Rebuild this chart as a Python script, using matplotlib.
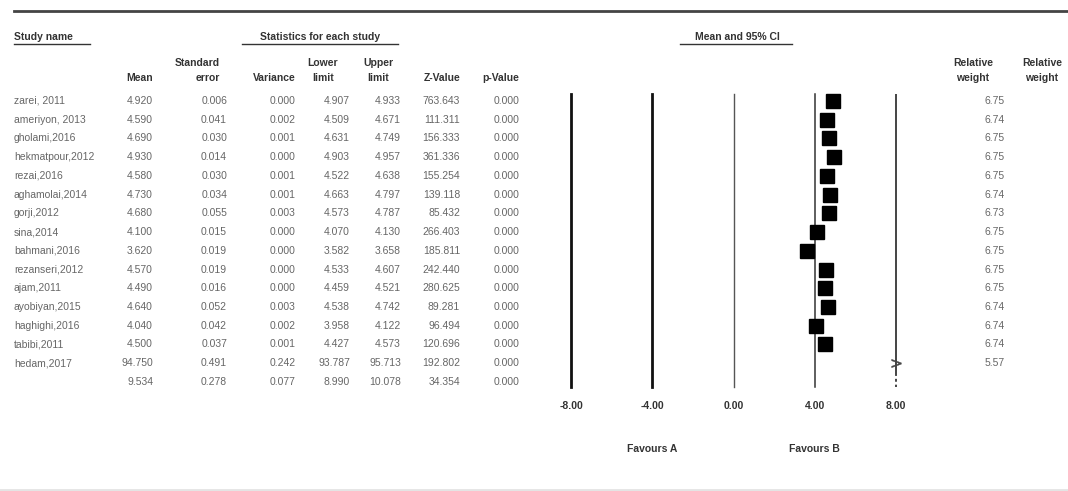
"""Forest plot of study means (mean and 95% CI) with the statistics table beside it."""
import matplotlib
matplotlib.use('Agg')
import matplotlib.pyplot as plt
from matplotlib.transforms import blended_transform_factory
from matplotlib.lines import Line2D

studies = ['zarei, 2011', 'ameriyon, 2013', 'gholami,2016', 'hekmatpour,2012', 'rezai,2016',
           'aghamolai,2014', 'gorji,2012', 'sina,2014', 'bahmani,2016', 'rezanseri,2012',
           'ajam,2011', 'ayobiyan,2015', 'haghighi,2016', 'tabibi,2011', 'hedam,2017']
means = [4.920, 4.590, 4.690, 4.930, 4.580, 4.730, 4.680, 4.100, 3.620, 4.570,
         4.490, 4.640, 4.040, 4.500, 94.750]
std_err = [0.006, 0.041, 0.030, 0.014, 0.030, 0.034, 0.055, 0.015, 0.019, 0.019,
           0.016, 0.052, 0.042, 0.037, 0.491]
variance = [0.000, 0.002, 0.001, 0.000, 0.001, 0.001, 0.003, 0.000, 0.000, 0.000,
            0.000, 0.003, 0.002, 0.001, 0.242]
lower = [4.907, 4.509, 4.631, 4.903, 4.522, 4.663, 4.573, 4.070, 3.582, 4.533,
         4.459, 4.538, 3.958, 4.427, 93.787]
upper = [4.933, 4.671, 4.749, 4.957, 4.638, 4.797, 4.787, 4.130, 3.658, 4.607,
         4.521, 4.742, 4.122, 4.573, 95.713]
z_values = [763.643, 111.311, 156.333, 361.336, 155.254, 139.118, 85.432, 266.403, 185.811,
            242.440, 280.625, 89.281, 96.494, 120.696, 192.802]
p_values = [0.000, 0.000, 0.000, 0.000, 0.000, 0.000, 0.000, 0.000, 0.000, 0.000,
            0.000, 0.000, 0.000, 0.000, 0.000]
rel_weight = [6.75, 6.74, 6.75, 6.75, 6.75, 6.74, 6.73, 6.75, 6.75, 6.75,
              6.75, 6.74, 6.74, 6.74, 5.57]

# pooled row
summary = [9.534, 0.278, 0.077, 8.990, 10.078, 34.354, 0.000]

x_ticks = [-8, -4, 0, 4, 8]
x_tick_labels = ['-8.00', '-4.00', '0.00', '4.00', '8.00']

W, H = 1068, 491
plt.rcParams['font.family'] = ['Liberation Sans', 'DejaVu Sans']
FS = 7.5
fig = plt.figure(figsize=(W / 100, H / 100), dpi=100)


def fx(px):
    return px / W


def fy(py):
    return 1 - py / H


# forest axes: -8 at px 571, 8 at px 896, lines from px 93.5 to 387
ax = fig.add_axes([fx(571), fy(387), fx(896) - fx(571), fy(93.5) - fy(387)])
ax.set_xlim(-8, 8)
ax.set_ylim(15.27, -0.40)
for s in ax.spines.values():
    s.set_visible(False)
ax.set_yticks([])
ax.set_xticks(x_ticks)
ax.set_xticklabels(x_tick_labels, fontsize=FS, fontweight='bold', color='#333333')
ax.tick_params(axis='x', length=0, pad=10)

n = len(studies)
line_styles = {-8: (2.0, '#111111'), -4: (2.0, '#111111'), 0: (1.0, '#555555'),
               4: (1.1, '#333333'), 8: (1.4, '#444444')}
for t in x_ticks:
    lw, col = line_styles[t]
    if t == 8:
        # solid down to the last study, dashed through the pooled (off-scale) row
        ax.vlines(t, -0.40, n - 0.5, color=col, lw=lw, clip_on=False)
        ax.vlines(t, n - 0.5, 15.27, color=col, lw=lw, linestyles=(0, (1.5, 1.5)), clip_on=False)
    else:
        ax.axvline(t, color=col, lw=lw, clip_on=False)

rows = list(range(n))
in_range = [i for i in rows if -8 <= means[i] <= 8]
out_range = [i for i in rows if means[i] > 8]
ax.hlines([rows[i] for i in in_range], [lower[i] for i in in_range],
          [upper[i] for i in in_range], color='black', lw=1)
ax.plot([means[i] for i in in_range], [rows[i] for i in in_range], 's',
        color='black', markersize=10.5, clip_on=False)
# off-scale study: arrow at the right edge of the scale
ax.plot([8 for i in out_range], [rows[i] for i in out_range], marker='$>$',
        ls='none', color='#444444', markersize=7, markeredgewidth=0.3, clip_on=False)

ax.text(-4, -0.21, 'Favours A', transform=ax.get_xaxis_transform(), ha='center',
        va='center', fontsize=FS, fontweight='bold', color='#333333')
ax.text(4, -0.21, 'Favours B', transform=ax.get_xaxis_transform(), ha='center',
        va='center', fontsize=FS, fontweight='bold', color='#333333')

# table text, rows aligned to the forest axes rows
tr = blended_transform_factory(fig.transFigure, ax.transData)
grey = '#666666'
col_right = [153, 227, 296, 350, 401, 460, 519]
for i in rows:
    ax.text(fx(14), i, studies[i], transform=tr, ha='left', va='center', fontsize=FS, color=grey)
    vals = [means[i], std_err[i], variance[i], lower[i], upper[i], z_values[i], p_values[i]]
    for x, v in zip(col_right, vals):
        ax.text(fx(x), i, f'{v:.3f}', transform=tr, ha='right', va='center', fontsize=FS, color=grey)
    ax.text(fx(1005), i, f'{rel_weight[i]:.2f}', transform=tr, ha='right', va='center',
            fontsize=FS, color=grey)
for x, v in zip(col_right, summary):
    ax.text(fx(x), n, f'{v:.3f}', transform=tr, ha='right', va='center', fontsize=FS, color=grey)

# headers
hdr = dict(fontsize=FS, fontweight='bold', color='#333333', va='center')
fig.text(fx(14), fy(37), 'Study name', ha='left', **hdr)
fig.text(fx(320), fy(37), 'Statistics for each study', ha='center', **hdr)
fig.text(fx(737), fy(37), 'Mean and 95% CI', ha='center', **hdr)
for x0, x1 in [(14, 90), (242, 398), (680, 792)]:
    fig.add_artist(Line2D([fx(x0), fx(x1)], [fy(44), fy(44)], color='#333333', lw=1))

fig.text(fx(153), fy(78), 'Mean', ha='right', **hdr)
fig.text(fx(220), fy(63), 'Standard', ha='right', **hdr)
fig.text(fx(220), fy(78), 'error', ha='right', **hdr)
fig.text(fx(296), fy(78), 'Variance', ha='right', **hdr)
fig.text(fx(323), fy(63), 'Lower', ha='center', **hdr)
fig.text(fx(323), fy(78), 'limit', ha='center', **hdr)
fig.text(fx(378), fy(63), 'Upper', ha='center', **hdr)
fig.text(fx(378), fy(78), 'limit', ha='center', **hdr)
fig.text(fx(460), fy(78), 'Z-Value', ha='right', **hdr)
fig.text(fx(519), fy(78), 'p-Value', ha='right', **hdr)
fig.text(fx(973), fy(63), 'Relative', ha='center', **hdr)
fig.text(fx(973), fy(78), 'weight', ha='center', **hdr)
fig.text(fx(1042), fy(63), 'Relative', ha='center', **hdr)
fig.text(fx(1042), fy(78), 'weight', ha='center', **hdr)

# rule at the top
fig.add_artist(Line2D([fx(14), 1], [fy(11), fy(11)], color='#444444', lw=2))
fig.add_artist(Line2D([0, 1], [fy(490), fy(490)], color='#e4e4e4', lw=2))

fig.savefig('out.png', dpi=100)
